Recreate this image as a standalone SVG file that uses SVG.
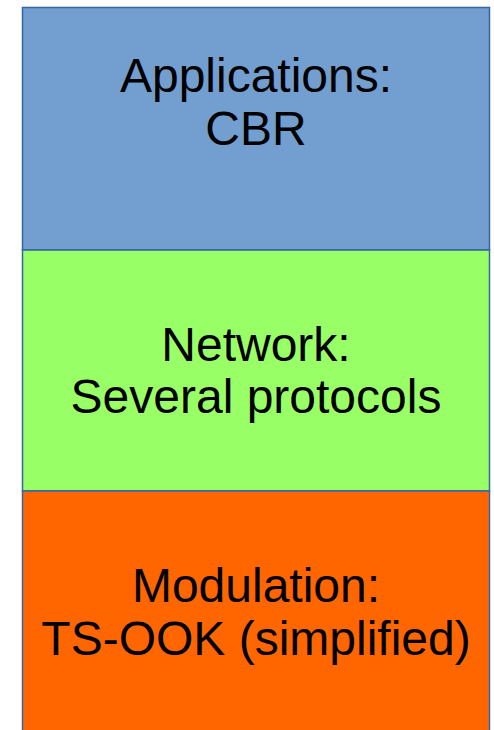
<svg xmlns="http://www.w3.org/2000/svg" width="494" height="730" viewBox="0 0 494 730">
<style>
.box{stroke:#3465a4;stroke-width:1.5}
.t{font-family:"Liberation Sans",Arial,sans-serif;font-size:48px;fill:#000;text-anchor:middle}
</style>
<rect width="494" height="730" fill="#fff"/>
<g id="applications">
<rect class="box" x="22.5" y="7.5" width="467" height="242.5" fill="#729fcf"/>
<text class="t" x="256" y="92">Applications:</text>
<text class="t" x="256" y="145">CBR</text>
</g>
<g id="network">
<rect class="box" x="22.5" y="250" width="467" height="241" fill="#99ff66"/>
<text class="t" x="256" y="361">Network:</text>
<text class="t" x="256" y="413">Several protocols</text>
</g>
<g id="modulation">
<rect class="box" x="22.5" y="491" width="467" height="245" fill="#ff6600"/>
<text class="t" x="256" y="602">Modulation:</text>
<text class="t" x="256" y="655">TS-OOK (simplified)</text>
</g>
<g id="connectors"/>
</svg>
